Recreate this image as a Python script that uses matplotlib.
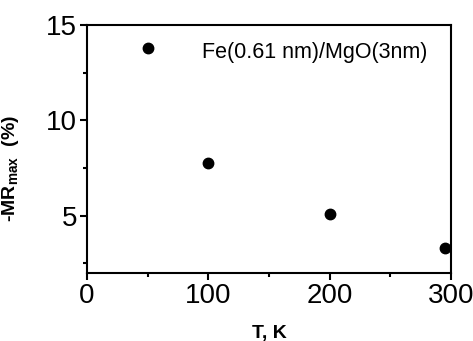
import numpy as np
import matplotlib.pyplot as plt
from matplotlib.ticker import MultipleLocator

plt.rcParams['font.family'] = ['Liberation Sans', 'DejaVu Sans']

temperature = [50, 100, 200, 295]
mr_max = [13.8, 7.75, 5.1, 3.3]
label = 'Fe(0.61 nm)/MgO(3nm)'

fig = plt.figure(figsize=(4.73, 3.41), dpi=100)
ax = fig.add_axes([87/473, 1 - 273/341, (451-87)/473, (273-25)/341])

ax.plot(temperature, mr_max, 'o', color='black', markersize=7.5)
ax.text(0.934, 0.89, label, transform=ax.transAxes, ha='right', va='center',
        fontsize=15.5)

ax.set_xlim(0, 300)
ax.set_ylim(2, 15)
ax.xaxis.set_major_locator(MultipleLocator(100))
ax.xaxis.set_minor_locator(MultipleLocator(50))
ax.yaxis.set_major_locator(MultipleLocator(5))
ax.yaxis.set_minor_locator(MultipleLocator(2.5))

for s in ax.spines.values():
    s.set_linewidth(1.5)
ax.tick_params(which='major', direction='out', length=5, width=1.5,
               labelsize=20, pad=2)
ax.tick_params(which='minor', direction='out', length=3, width=1.5)

ax.set_xlabel('T, K', fontsize=14, fontweight='bold', labelpad=12)
ax.set_ylabel(r'-MR$_{\mathregular{max}}$  (%)', fontsize=14, fontweight='bold')
ax.yaxis.set_label_coords(-0.18, 0.42)

fig.savefig('out.png', dpi=100)
